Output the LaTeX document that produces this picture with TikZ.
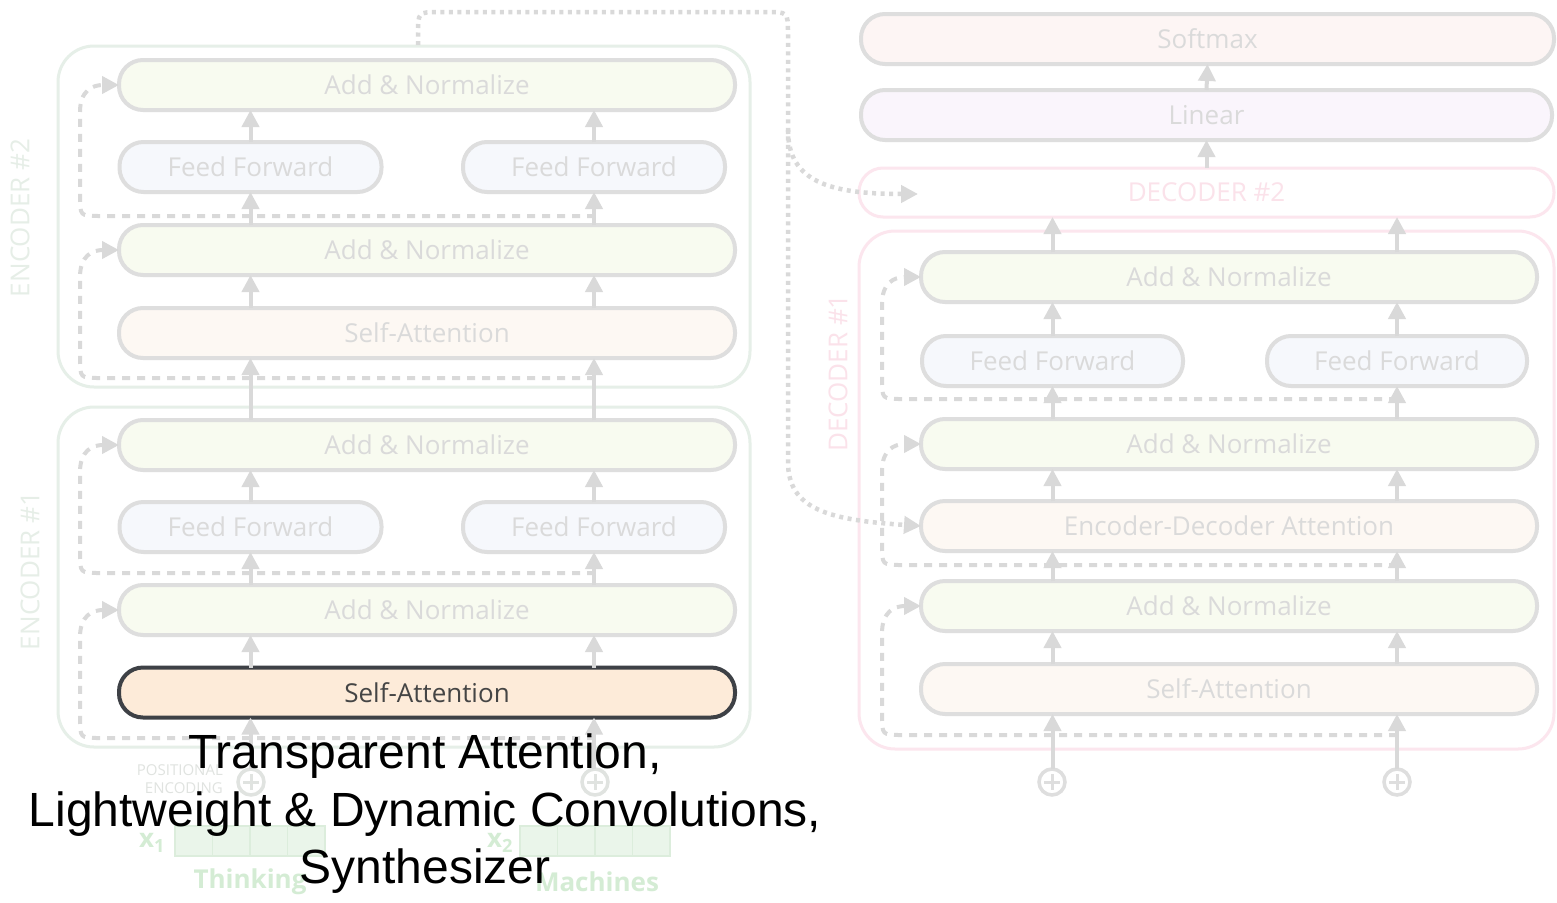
\documentclass[tikz,border=0pt]{standalone}
\usepackage{fontspec}
\setmainfont{Open Sans}
\newfontfamily\capfont{Liberation Sans}
\usetikzlibrary{arrows.meta,positioning}

\definecolor{boxline}{HTML}{DEDEDE}
\definecolor{paletext}{HTML}{DADADA}
\definecolor{arrowgray}{HTML}{D9D9D9}
\definecolor{greenfill}{HTML}{F8FBF0}
\definecolor{bluefill}{HTML}{F6F8FC}
\definecolor{orangefill}{HTML}{FDF8F3}
\definecolor{encframe}{HTML}{E6EFE8}
\definecolor{enclabel}{HTML}{E6EEE7}
\definecolor{decframe}{HTML}{FCE6EE}
\definecolor{declabel}{HTML}{FBE2EA}
\definecolor{softfill}{HTML}{FDF5F4}
\definecolor{linfill}{HTML}{FAF5FC}
\definecolor{hiline}{HTML}{3E4146}
\definecolor{hifill}{HTML}{FDEBD9}
\definecolor{hitext}{HTML}{454545}
\definecolor{embfill}{HTML}{EAF5EA}
\definecolor{embline}{HTML}{DCEDDC}
\definecolor{wordtext}{HTML}{D4ECD4}
\definecolor{inputgray}{HTML}{E0E3E0}

\tikzset{
  layer/.style={draw=boxline, line width=4pt, rounded corners=24pt,
    minimum height=50pt, inner sep=0pt, outer sep=0pt, text=paletext,
    font=\fontsize{26}{30}\selectfont},
  addnorm/.style={layer, minimum width=616pt, fill=greenfill},
  attn/.style={layer, minimum width=616pt, fill=orangefill},
  ffbox/.style={layer, minimum width=262pt, fill=bluefill},
  topbox/.style={layer, minimum width=693pt},
  encbox/.style={draw=encframe, line width=3pt, rounded corners=36pt,
    inner sep=0pt, outer sep=0pt, minimum width=692pt},
  decbox/.style={draw=decframe, line width=3pt, rounded corners=36pt,
    inner sep=0pt, outer sep=0pt, minimum width=695pt},
  stacklabel/.style={rotate=90, font=\fontsize{26}{30}\selectfont, inner sep=0pt},
  flow/.style={draw=arrowgray, line width=4pt, -{Triangle[width=17pt,length=17pt]}},
  resid/.style={draw=arrowgray, line width=4pt, dash pattern=on 8pt off 7pt,
    -{Triangle[width=17pt,length=17pt]}},
  xattn/.style={draw=arrowgray, line width=4.5pt, dash pattern=on 4pt off 4.5pt,
    -{Triangle[width=17pt,length=17pt]}},
  plusnode/.style={circle, draw=#1, line width=3.5pt, minimum size=26pt,
    inner sep=0pt, outer sep=0pt},
  embcell/.style={draw=embline, fill=embfill, line width=1.5pt,
    minimum width=37.5pt, minimum height=30pt, inner sep=0pt, outer sep=0pt},
  wordlbl/.style={text=wordtext, font=\bfseries\fontsize{26}{30}\selectfont, inner sep=0pt}
}

\begin{document}
\begin{tikzpicture}[x=1pt, y=-1pt]
\fill[white] (0,0) rectangle (1557,902);
\useasboundingbox (0,0) rectangle (1557,902);

% ---------- encoder stack frames ----------
\node[encbox, minimum height=341pt] (enc2) at (404,216.5) {};
\node[encbox, minimum height=340pt] (enc1) at (404,577) {};
\node[stacklabel, text=enclabel] (enc2lbl) at (20,218) {ENCODER \#2};
\node[stacklabel, text=enclabel] (enc1lbl) at (30,571) {ENCODER \#1};

% ---------- encoder #2 layers ----------
\node[addnorm] (e2an2) at (427,85) {Add \& Normalize};
\node[ffbox] (e2ffl) at (250.5,167) {Feed Forward};
\node[ffbox] (e2ffr) at (594,167) {Feed Forward};
\node[addnorm] (e2an1) at (427,250) {Add \& Normalize};
\node[attn] (e2sa) at (427,333) {Self-Attention};

% ---------- encoder #1 layers ----------
\node[addnorm] (e1an2) at (427,445) {Add \& Normalize};
\node[ffbox] (e1ffl) at (250.5,527) {Feed Forward};
\node[ffbox] (e1ffr) at (594,527) {Feed Forward};
\node[addnorm] (e1an1) at (427,610) {Add \& Normalize};
\node[attn, draw=hiline, fill=hifill, text=hitext] (e1sa) at (427,692.5) {Self-Attention};

% ---------- encoder inputs ----------
\node[plusnode=inputgray] (ec1) at (251,782) {};
\node[plusnode=inputgray] (ec2) at (595,782) {};
\foreach \c in {ec1,ec2}{
  \draw[inputgray, line width=3pt] (\c.center) ++(-8,0) -- ++(16,0);
  \draw[inputgray, line width=3pt] (\c.center) ++(0,-8) -- ++(0,16);
}
\node[text=inputgray, font=\fontsize{15}{18}\selectfont, align=right, inner sep=0pt, anchor=east]
  (posenc) at (223,779) {POSITIONAL\\ENCODING};

\node[embcell] (x1a) at (193.75,841) {};
\node[embcell, right=0pt of x1a] (x1b) {};
\node[embcell, right=0pt of x1b] (x1c) {};
\node[embcell, right=0pt of x1c] (x1d) {};
\node[embcell] (x2a) at (538.75,841) {};
\node[embcell, right=0pt of x2a] (x2b) {};
\node[embcell, right=0pt of x2b] (x2c) {};
\node[embcell, right=0pt of x2c] (x2d) {};
\node[wordlbl] (x1lbl) at (152,843) {x\textsubscript{1}};
\node[wordlbl] (x2lbl) at (500,843) {x\textsubscript{2}};
\node[wordlbl] (w1) at (250,882) {Thinking};
\node[wordlbl] (w2) at (597,882) {Machines};

% ---------- encoder flow arrows ----------
\foreach \col in {ffl,ffr}{
  \draw[flow] (ec1.north -| e1\col.north) -- (e1\col.north |- e1sa.south);
  \draw[flow] (e1\col.south |- e1sa.north) -- (e1\col.south |- e1an1.south);
  \draw[flow] (e1\col.south |- e1an1.north) -- (e1\col.south);
  \draw[flow] (e1\col.north) -- (e1\col.north |- e1an2.south);
  \draw[flow] (e1\col.north |- e1an2.north) -- (e1\col.north |- e2sa.south);
  \draw[flow] (e2\col.south |- e2sa.north) -- (e2\col.south |- e2an1.south);
  \draw[flow] (e2\col.south |- e2an1.north) -- (e2\col.south);
  \draw[flow] (e2\col.north) -- (e2\col.north |- e2an2.south);
}

% ---------- encoder residual paths ----------
\coordinate (e2r2) at (595,216);
\coordinate (e2r1) at (595,378);
\coordinate (e1r2) at (595,573);
\coordinate (e1r1) at (595,738);
\draw[resid] (e2r2) -- (100,216) .. controls (80,216) .. (80,196) -- (80,112)
  .. controls (80,91) and (92,85) .. (e2an2.west);
\draw[resid] (e2r1) -- (100,378) .. controls (80,378) .. (80,358) -- (80,277)
  .. controls (80,256) and (92,250) .. (e2an1.west);
\draw[resid] (e1r2) -- (100,573) .. controls (80,573) .. (80,553) -- (80,472)
  .. controls (80,451) and (92,445) .. (e1an2.west);
\draw[resid] (e1r1) -- (100,738) .. controls (80,738) .. (80,718) -- (80,637)
  .. controls (80,616) and (92,610) .. (e1an1.west);

% ---------- decoder output head ----------
\node[topbox, fill=softfill] (dsoft) at (1207.5,39) {Softmax};
\node[topbox, minimum width=691pt, fill=linfill] (dlin) at (1206.5,115) {Linear};
\node[decbox, rounded corners=24pt, minimum height=49pt, text=declabel,
  font=\fontsize{26}{30}\selectfont] (dec2) at (1206.5,192.5) {DECODER \#2};
\draw[flow] (dlin.north) -- (dsoft.south);
\draw[flow] (dec2.north) -- (dlin.south);

% ---------- decoder #1 ----------
\node[decbox, minimum height=518pt] (dec1) at (1206.5,490) {};
\node[stacklabel, text=declabel] (dec1lbl) at (838,373) {DECODER \#1};

\node[addnorm] (d1an3) at (1229,277) {Add \& Normalize};
\node[ffbox, minimum width=261pt] (d1ffl) at (1052.5,361) {Feed Forward};
\node[ffbox, minimum width=260pt] (d1ffr) at (1397,361) {Feed Forward};
\node[addnorm] (d1an2) at (1229,444) {Add \& Normalize};
\node[attn] (d1eda) at (1229,526) {Encoder-Decoder Attention};
\node[addnorm] (d1an1) at (1229,606) {Add \& Normalize};
\node[attn] (d1sa) at (1229,689) {Self-Attention};

\node[plusnode=boxline] (dc1) at (1052,782) {};
\node[plusnode=boxline] (dc2) at (1397,782) {};
\foreach \c in {dc1,dc2}{
  \draw[boxline, line width=3pt] (\c.center) ++(-8,0) -- ++(16,0);
  \draw[boxline, line width=3pt] (\c.center) ++(0,-8) -- ++(0,16);
}

\foreach \col in {ffl,ffr}{
  \draw[flow] (dc1.north -| d1\col.north) -- (d1\col.north |- d1sa.south);
  \draw[flow] (d1\col.south |- d1sa.north) -- (d1\col.south |- d1an1.south);
  \draw[flow] (d1\col.south |- d1an1.north) -- (d1\col.south |- d1eda.south);
  \draw[flow] (d1\col.south |- d1eda.north) -- (d1\col.south |- d1an2.south);
  \draw[flow] (d1\col.south |- d1an2.north) -- (d1\col.south);
  \draw[flow] (d1\col.north) -- (d1\col.north |- d1an3.south);
  \draw[flow] (d1\col.north |- d1an3.north) -- (d1\col.north |- dec2.south);
}

% ---------- decoder residual paths ----------
\coordinate (d1r3) at (1397,399);
\coordinate (d1r2) at (1397,565);
\coordinate (d1r1) at (1397,735);
\draw[resid] (d1r3) -- (902,399) .. controls (882,399) .. (882,379) -- (882,304)
  .. controls (882,283) and (894,277) .. (d1an3.west);
\draw[resid] (d1r2) -- (902,565) .. controls (882,565) .. (882,545) -- (882,471)
  .. controls (882,450) and (894,444) .. (d1an2.west);
\draw[resid] (d1r1) -- (902,735) .. controls (882,735) .. (882,715) -- (882,633)
  .. controls (882,612) and (894,606) .. (d1an1.west);

% ---------- encoder output to decoders ----------
\coordinate (xsrc) at (418,45);
\coordinate (xsplit) at (788,130);
\coordinate (dec2in) at (918,194);
\draw[xattn] (xsrc) -- (418,34) .. controls (418,12) .. (440,12) -- (766,12)
  .. controls (788,12) .. (788,34) -- (788,462)
  .. controls (788,510) and (830,520) .. (d1eda.west);
\draw[xattn] (xsplit) .. controls (788,182) and (830,194) .. (dec2in);

% ---------- caption ----------
\node[font=\capfont\fontsize{48}{57.5}\selectfont, align=center, text=black, inner sep=0pt]
  (caption) at (425,814) {Transparent Attention,\\Lightweight \& Dynamic Convolutions,\\Synthesizer};
\end{tikzpicture}
\end{document}
